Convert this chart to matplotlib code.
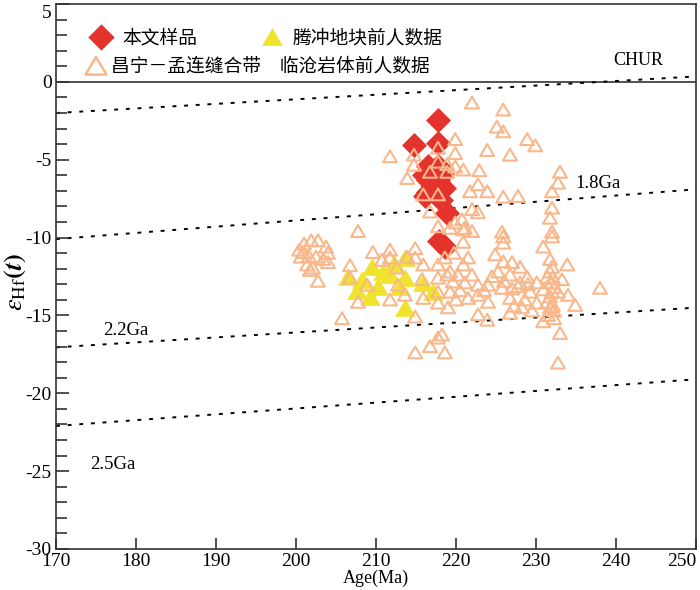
import matplotlib
matplotlib.use("Agg")
import matplotlib.pyplot as plt
from matplotlib.path import Path
from matplotlib.ticker import MultipleLocator, FixedLocator, FixedFormatter

# 本文样品 (red diamonds)
sample_age = [217.75, 214.75, 217.75, 216.5, 217.75, 216.5, 217.75, 216.5, 217.75,
              217.1, 217.1, 218.25, 216.0, 216.1, 218.5, 218.1,
              218.9, 217.9, 218.6]
sample_ehf = [-2.45, -4.05, -3.95, -5.4, -5.4, -6.3, -6.3, -7.1, -7.1,
              -5.9, -6.7, -5.9, -6.0, -7.3, -6.8, -7.6,
              -8.4, -10.2, -10.6]

# 腾冲地块前人数据 (yellow triangles)
tc_age = [206.5, 209.5, 208.25, 209.25, 213.6, 213.6, 213.6, 211.75, 210.9,
          213.0, 215.9, 217.1, 210.25, 212.3, 207.6]
tc_ehf = [-12.5, -11.9, -12.7, -13.8, -11.3, -12.6, -14.5, -12.4, -12.2,
          -13.2, -12.9, -13.5, -13.2, -11.7, -13.4]

# 昌宁-孟连缝合带 临沧岩体前人数据 (hollow triangles)
cm_age = [211.75, 214.75, 214.75, 213.9, 216.75, 217.75, 217.75, 215.9, 217.75, 216.75,
          207.75, 217.75, 218.9, 222.0, 225.9, 225.1, 225.9, 228.9, 229.9, 219.9,
          223.9, 226.75, 219.9, 219.9, 220.9, 222.9, 218.9, 233.0, 232.75, 232.0,
          221.75, 223.9, 222.75, 225.9, 227.75, 232.0, 231.75, 222.0, 222.75, 220.75,
          219.9, 221.1, 225.75, 232.0,
          200.4, 201.0, 201.9, 202.75, 203.75, 200.6, 201.6, 202.5, 203.4, 204.0,
          201.4, 202.1, 202.75, 201.75, 200.9, 204.0,
          206.75, 206.75, 209.6, 210.75, 211.75, 211.75, 212.6, 213.9, 214.9, 214.9,
          215.9, 208.9, 207.75, 211.75, 212.75, 213.6, 215.75, 215.9, 205.75, 214.9,
          217.75, 216.75, 214.9, 218.6, 217.75, 217.75, 217.75, 217.75, 218.9, 218.6,
          219.25, 220.9, 222.0, 220.9, 232.0, 230.9, 225.9, 225.9, 224.9, 225.9,
          227.0, 228.0, 233.9, 232.0, 225.25, 226.75, 228.9, 230.1, 231.4, 232.1,
          233.25, 222.75, 224.0, 225.75, 227.75, 229.25, 230.9, 232.0, 232.75, 234.0,
          238.0, 222.75, 224.0, 226.75, 228.6, 230.1, 231.4, 232.1, 234.9, 222.75,
          223.9, 226.75, 230.9, 231.75, 233.0, 232.75, 218.25, 220.9, 219.6, 220.5,
          219.25, 221.1, 220.25, 219.25,
          231.75, 232.0, 231.75, 232.25, 231.5, 232.25, 231.75, 232.25,
          228.0, 227.0, 229.0, 226.0, 228.25, 227.25, 229.5, 224.5, 223.5,
          219.75, 221.5, 220.0, 219.0, 221.5, 222.0]
cm_ehf = [-4.8, -4.7, -5.35, -6.2, -5.8, -4.25, -5.15, -7.25, -7.25, -8.35,
          -9.6, -9.3, -5.8, -1.35, -1.8, -2.9, -3.2, -3.7, -4.1, -3.7,
          -4.4, -4.7, -4.6, -5.45, -5.65, -5.7, -5.3, -5.8, -6.5, -7.05,
          -7.05, -7.05, -6.6, -7.4, -7.35, -8.1, -8.75, -8.2, -8.4, -8.85,
          -9.05, -9.4, -9.65, -9.65,
          -10.8, -10.4, -10.2, -10.2, -10.6, -11.25, -11.2, -11.25, -11.4, -11.6,
          -11.75, -11.95, -12.8, -12.1, -10.95, -11.0,
          -11.8, -12.6, -10.95, -11.45, -10.8, -11.3, -11.95, -11.25, -10.7, -11.3,
          -11.75, -13.05, -14.15, -14.0, -13.05, -13.7, -12.7, -13.9, -15.2, -15.1,
          -16.45, -17.0, -17.4, -17.4, -11.75, -12.6, -13.5, -14.2, -12.4, -11.3,
          -9.4, -9.5, -9.6, -10.3, -9.95, -10.6, -9.95, -10.35, -11.1, -11.55,
          -11.6, -11.9, -11.75, -11.9, -12.2, -12.4, -12.55, -12.9, -12.55, -12.6,
          -12.7, -13.05, -13.05, -13.25, -13.15, -13.5, -13.35, -13.5, -13.5, -13.7,
          -13.25, -13.7, -14.15, -13.9, -14.0, -14.2, -14.15, -14.35, -14.35, -14.95,
          -15.3, -14.85, -15.4, -14.5, -16.15, -18.05, -16.25, -11.75, -12.85, -13.4,
          -13.5, -12.9, -12.4, -12.2,
          -12.2, -12.9, -13.8, -14.7, -15.0, -15.2, -11.4, -13.2,
          -12.9, -13.3, -13.0, -12.8, -14.5, -14.4, -14.7, -12.5, -13.4,
          -11.0, -11.3, -14.0, -14.5, -13.9, -12.4]

# reference lines: CHUR and crustal evolution lines (age ends, eHf ends)
line_age = [170, 250]
line_top = [-2.0, 0.35]
line_18 = [-10.1, -6.9]
line_22 = [-17.05, -14.5]
line_25 = [-22.1, -19.1]

x_ticks = [170, 180, 190, 200, 210, 220, 230, 240, 250]
y_ticks = [-30, -25, -20, -15, -10, -5, 0, 5]

red = "#E4322C"
yellow = "#F0E32D"
peach = "#F8B88B"

plt.rcParams["font.family"] = ["Liberation Serif", "DejaVu Sans"]
plt.rcParams["axes.unicode_minus"] = False
plt.rcParams["mathtext.fontset"] = "stix"

tri = Path([(-1, -0.8), (1, -0.8), (0, 0.9), (0, 0)],
           [Path.MOVETO, Path.LINETO, Path.LINETO, Path.CLOSEPOLY])
dia = Path([(0, 1), (1, 0), (0, -1), (-1, 0), (0, 0)],
           [Path.MOVETO, Path.LINETO, Path.LINETO, Path.LINETO, Path.CLOSEPOLY])

fig = plt.figure(figsize=(7.0, 5.9), dpi=100)
ax = fig.add_axes([0.08, 0.0695, 0.9143, 0.9237])

ax.axhline(0, color="#333333", lw=1.2, zorder=1)
for ys in (line_top, line_18, line_22, line_25):
    ax.plot(line_age, ys, color="black", lw=1.4, linestyle=(0, (2, 4)), zorder=1)

ax.scatter(sample_age, sample_ehf, marker=dia, s=18 ** 2, color=red,
           linewidths=0, zorder=3)
ax.scatter(tc_age, tc_ehf, marker=tri, s=15 ** 2, color=yellow,
           linewidths=0, zorder=4)
ax.scatter(cm_age, cm_ehf, marker=tri, s=10 ** 2, facecolors="none",
           edgecolors=peach, linewidths=1.5, zorder=5)

# labels on lines
ax.text(239.6, 1.4, "CHUR", fontsize=13, va="center", ha="left")
ax.text(234.9, -6.5, "1.8Ga", fontsize=13.5, va="center", ha="left")
ax.text(175.9, -15.95, "2.2Ga", fontsize=13.5, va="center", ha="left")
ax.text(174.25, -24.6, "2.5Ga", fontsize=13.5, va="center", ha="left")

# legend drawn by hand
cjk = ["Noto Sans CJK SC", "DejaVu Sans"]
ax.scatter([175.6], [2.85], marker=dia, s=19 ** 2, color=red, linewidths=0, clip_on=False)
ax.text(178.25, 2.85, "本文样品", family=cjk, fontsize=13.5, va="center", ha="left")
ax.scatter([197.0], [2.85], marker=tri, s=15 ** 2, color=yellow, linewidths=0, clip_on=False)
ax.text(199.6, 2.85, "腾冲地块前人数据", family=cjk, fontsize=13.5, va="center", ha="left")
ax.scatter([175.0], [1.0], marker=tri, s=15 ** 2, facecolors="none",
           edgecolors=peach, linewidths=1.8, clip_on=False)
ax.text(176.9, 1.0, "昌宁－孟连缝合带\u3000临沧岩体前人数据", family=cjk,
        fontsize=13.5, va="center", ha="left")

ax.set_xlim(170, 250)
ax.set_ylim(-30, 5)
# last x label and top y label sit at the frame edge, so they are drawn apart
ax.xaxis.set_major_locator(FixedLocator(x_ticks))
ax.xaxis.set_major_formatter(FixedFormatter([str(t) for t in x_ticks[:-1]] + [""]))
ax.yaxis.set_major_locator(FixedLocator(y_ticks))
ax.yaxis.set_major_formatter(FixedFormatter([str(t) for t in y_ticks[:-1]] + [""]))
ax.yaxis.set_minor_locator(MultipleLocator(1))
ax.annotate(str(x_ticks[-1]), xy=(1, 0), xycoords="axes fraction", xytext=(0, -3),
            textcoords="offset points", ha="right", va="top", fontsize=14)
ax.annotate(str(y_ticks[-1]), xy=(0, 1), xycoords="axes fraction", xytext=(-3, -1),
            textcoords="offset points", ha="right", va="top", fontsize=14)

ax.tick_params(axis="both", which="both", direction="in", top=False, right=False,
               color="#333333", width=1.2, labelsize=14, pad=3)
ax.tick_params(axis="y", which="major", length=9)
ax.tick_params(axis="y", which="minor", length=8)
ax.tick_params(axis="x", which="major", length=8)
for sp in ax.spines.values():
    sp.set_color("#333333")
    sp.set_linewidth(1.2)

ax.set_xlabel("Age(Ma)", fontsize=13, labelpad=0)
ax.set_ylabel(r"$\varepsilon_{\rm Hf}\mathbf{(}\boldsymbol{t}\mathbf{)}$", fontsize=19, labelpad=2)
ax.yaxis.set_label_coords(-0.044, 0.49)

fig.savefig("out.png", dpi=100)
